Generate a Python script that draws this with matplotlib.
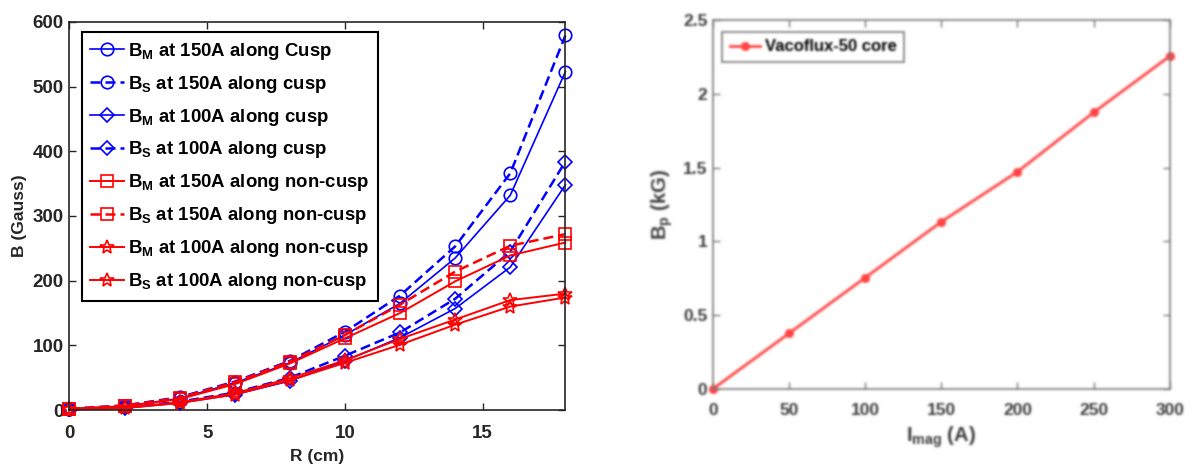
import matplotlib
matplotlib.use("Agg")
import numpy as np
import matplotlib.pyplot as plt

plt.rcParams['font.family'] = ['Liberation Sans', 'DejaVu Sans']
plt.rcParams['font.weight'] = 'bold'
plt.rcParams['axes.labelweight'] = 'bold'
plt.rcParams['mathtext.default'] = 'regular'

# field along radius, Gauss
R = [0, 2, 4, 6, 8, 10, 12, 14, 16, 18]
bm150_cusp = [2, 6, 18, 42, 73, 116, 165, 235, 332, 523]
bs150_cusp = [2, 7, 20, 44, 76, 121, 177, 253, 366, 579]
bm100_cusp = [1, 3, 11, 24, 45, 76, 112, 157, 221, 348]
bs100_cusp = [1, 4, 13, 27, 50, 84, 120, 172, 245, 384]
bm150_non = [2, 6, 17, 40, 72, 111, 150, 199, 239, 259]
bs150_non = [2, 7, 19, 43, 75, 116, 163, 214, 254, 272]
bm100_non = [1, 3, 11, 24, 46, 73, 101, 132, 160, 174]
bs100_non = [1, 4, 12, 26, 49, 77, 110, 140, 170, 180]

# peak field vs magnet current
imag = [0, 50, 100, 150, 200, 250, 300]
bp = [0, 0.377, 0.754, 1.133, 1.472, 1.874, 2.256]

series = [
    (bm150_cusp, 'B$_M$ at 150A along Cusp', 'b', '-', 'o'),
    (bs150_cusp, 'B$_S$ at 150A along cusp', 'b', '--', 'o'),
    (bm100_cusp, 'B$_M$ at 100A along cusp', 'b', '-', 'D'),
    (bs100_cusp, 'B$_S$ at 100A along cusp', 'b', '--', 'D'),
    (bm150_non, 'B$_M$ at 150A along non-cusp', 'r', '-', 's'),
    (bs150_non, 'B$_S$ at 150A along non-cusp', 'r', '--', 's'),
    (bm100_non, 'B$_M$ at 100A along non-cusp', 'r', '-', '*'),
    (bs100_non, 'B$_S$ at 100A along non-cusp', 'r', '-', '*'),
]


def style(ax, size, spine, text):
    for s in ax.spines.values():
        s.set_color(spine)
        s.set_linewidth(1.2)
    ax.tick_params(direction='in', top=True, right=True, length=5, width=1.0,
                   color=spine, labelcolor=text, labelsize=size, pad=4)


fig = plt.figure(figsize=(11.92, 4.66), dpi=100)

# left: radial profiles
ax1 = fig.add_axes([0.0583, 0.120, 0.416, 0.833])
for y, lab, c, ls, m in series:
    ms = 7 if m == 'D' else (10 if m == '*' else 9)
    if ls == '--':
        ax1.plot(R, y, color=c, ls=(0, (4, 2)), lw=1.8, marker=m, ms=ms,
                 mfc='none', mew=1.2, label=lab, clip_on=False)
    else:
        ax1.plot(R, y, color=c, ls='-', lw=1.4 if c == 'r' else 1.2, marker=m,
                 ms=ms, mfc='none', mew=1.2, label=lab, clip_on=False)
ax1.set_xlim(0, 18)
ax1.set_ylim(0, 600)
ax1.set_xticks([0, 5, 10, 15])
ax1.set_yticks(range(0, 601, 100))
style(ax1, 13.5, '#262626', '#262626')
ax1.tick_params(axis='x', pad=10.5)
ax1.set_xlabel('R (cm)', fontsize=12.5, color='#262626', labelpad=5)
ax1.set_ylabel('B (Gauss)', fontsize=12.5, color='#262626', labelpad=4)
leg = ax1.legend(loc='upper left', bbox_to_anchor=(0.0246, 0.973), borderaxespad=0,
                 fontsize=13.4, handlelength=1.85, labelspacing=0.64, fancybox=False,
                 edgecolor='black', framealpha=1, borderpad=0.45, handletextpad=0.2)
leg.get_frame().set_linewidth(1.5)

# right: peak field vs current
ax2 = fig.add_axes([0.598, 0.1652, 0.3834, 0.7918])
ax2.plot(imag, bp, color='#ff4545', lw=2.0, marker='o', ms=5.5,
         label='Vacoflux-50 core', clip_on=False)
ax2.set_xlim(0, 300)
ax2.set_ylim(0, 2.5)
ax2.set_xticks(range(0, 301, 50))
ax2.set_yticks([0, 0.5, 1, 1.5, 2, 2.5])
ax2.set_yticklabels(['0', '0.5', '1', '1.5', '2', '2.5'])
style(ax2, 12.5, '#7a7a7a', '#3c3c3c')
ax2.tick_params(axis='x', pad=10)
ax2.set_xlabel('I$_{mag}$ (A)', fontsize=14.5, color='#3c3c3c', labelpad=5)
ax2.set_ylabel('B$_p$ (kG)', fontsize=14.5, color='#3c3c3c', labelpad=5.5)
leg2 = ax2.legend(loc='upper left', bbox_to_anchor=(0.021, 0.968), borderaxespad=0,
                  fontsize=12, handlelength=1.8, fancybox=False, edgecolor='#7a7a7a',
                  framealpha=1, borderpad=0.45, handletextpad=0.3)
leg2.get_frame().set_linewidth(1.2)

# the right panel is soft in the source; blur that half slightly
fig.canvas.draw()
img = np.asarray(fig.canvas.buffer_rgba()).astype(float) / 255.0
x0 = 620
part = img[:, x0:, :3]
xs = np.arange(-3, 4)
k = np.exp(-xs ** 2 / (2 * 1.1 ** 2))
k /= k.sum()
pad = np.pad(part, ((3, 3), (3, 3), (0, 0)), mode='edge')
tmp = sum(k[i] * pad[:, i:i + pad.shape[1] - 6, :] for i in range(7))
out = sum(k[i] * tmp[i:i + tmp.shape[0] - 6, :, :] for i in range(7))
img[:, x0:, :3] = out
plt.imsave('out.png', img[:, :, :3])
